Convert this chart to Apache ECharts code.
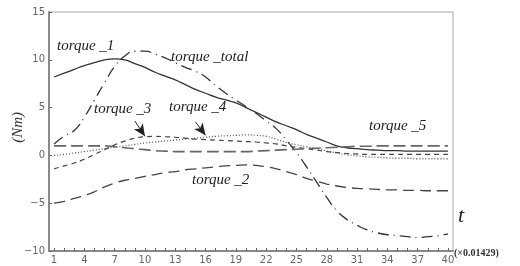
<!DOCTYPE html>
<html>
<head>
<meta charset="utf-8">
<script src="https://cdn.jsdelivr.net/npm/echarts@6/dist/echarts.min.js"></script>
<style>
  html, body { margin: 0; padding: 0; background: #fff; }
  #main { width: 520px; height: 266px; }
</style>
</head>
<body>
<div id="main"></div>
<script>
// time steps (x 0.01429)
var steps = [];
for (var i = 1; i <= 40; i++) steps.push(String(i));

var torque1 = [8.2, 8.6, 9.0, 9.4, 9.7, 10.0, 10.1, 10.0, 9.6, 9.2,
  8.7, 8.3, 7.9, 7.4, 6.9, 6.5, 6.1, 5.8, 5.5, 5.0,
  4.5, 4.0, 3.5, 3.1, 2.7, 2.2, 1.8, 1.4, 1.0, 0.8,
  0.7, 0.6, 0.55, 0.5, 0.5, 0.45, 0.45, 0.45, 0.45, 0.45];
var torqueTotal = [1.2, 2.0, 2.6, 4.0, 5.8, 7.6, 9.3, 10.4, 10.9, 10.9,
  10.6, 10.2, 9.7, 9.2, 8.8, 8.2, 7.3, 6.5, 5.8, 5.1,
  4.4, 3.6, 2.8, 1.6, 0.3, -1.2, -2.8, -4.4, -5.8, -6.7,
  -7.3, -7.8, -8.1, -8.3, -8.4, -8.5, -8.6, -8.5, -8.4, -8.2];
var torque2 = [-5.0, -4.8, -4.5, -4.2, -3.8, -3.3, -2.9, -2.6, -2.4, -2.2,
  -2.0, -1.8, -1.7, -1.5, -1.4, -1.3, -1.2, -1.1, -1.05, -1.0,
  -1.05, -1.2, -1.4, -1.7, -2.0, -2.4, -2.7, -3.0, -3.2, -3.35,
  -3.45, -3.5, -3.55, -3.6, -3.6, -3.65, -3.65, -3.7, -3.7, -3.7];
var torque3 = [-1.4, -1.1, -0.8, -0.4, 0.1, 0.6, 1.1, 1.5, 1.8, 1.95,
  2.0, 1.95, 1.9, 1.8, 1.7, 1.65, 1.6, 1.55, 1.5, 1.45,
  1.4, 1.3, 1.2, 1.0, 0.85, 0.7, 0.55, 0.4, 0.3, 0.2,
  0.15, 0.1, 0.1, 0.1, 0.1, 0.1, 0.1, 0.1, 0.1, 0.1];
var torque4 = [0.0, 0.1, 0.25, 0.4, 0.55, 0.7, 0.85, 1.0, 1.15, 1.3,
  1.4, 1.5, 1.6, 1.7, 1.8, 1.9, 2.0, 2.05, 2.1, 2.15,
  2.1, 2.0, 1.7, 1.35, 1.1, 0.9, 0.7, 0.45, 0.25, 0.05,
  -0.05, -0.15, -0.2, -0.25, -0.3, -0.3, -0.35, -0.35, -0.35, -0.35];
var torque5 = [1.0, 1.0, 1.0, 1.0, 1.0, 1.0, 0.9, 0.8, 0.7, 0.6,
  0.5, 0.45, 0.4, 0.4, 0.4, 0.4, 0.4, 0.4, 0.4, 0.4,
  0.45, 0.5, 0.55, 0.6, 0.65, 0.7, 0.75, 0.8, 0.85, 0.9,
  0.95, 0.95, 1.0, 1.0, 1.0, 1.0, 1.0, 1.0, 1.0, 1.0];

var yTicks = [-10, -5, 0, 5, 10, 15];

var serif = 'Liberation Serif';
var axisGray = '#8a8a8a';

function curve(name, data, type, width, color) {
    return {
        name: name,
        type: 'line',
        data: data,
        smooth: true,
        showSymbol: false,
        silent: true,
        lineStyle: { color: color || '#333', width: width || 1.2, type: type }
    };
}

function label(text, x, y) {
    return {
        type: 'text', left: x, top: y,
        style: { text: text, font: 'italic 15px "' + serif + '"', fill: '#222' }
    };
}

var myChart = echarts.init(document.getElementById('main'));

var s3 = curve('torque_3', torque3, [5, 4], 1.2, '#444');
// arrows pointing at torque_3 and torque_4
s3.markLine = {
    silent: true,
    symbol: ['none', 'arrow'],
    symbolSize: [8, 12],
    label: { show: false },
    lineStyle: { color: '#222', width: 1, type: 'solid' },
    data: [
        [{ coord: ['9', 3.6] }, { coord: ['10', 2.0] }],
        [{ coord: ['15', 3.5] }, { coord: ['16', 2.1] }]
    ]
};

myChart.setOption({
    animation: false,
    grid: { left: 49, right: 67, top: 12, bottom: 15, show: true, borderColor: '#aaa', borderWidth: 1 },
    xAxis: {
        type: 'category',
        data: steps,
        boundaryGap: true,
        axisLine: { onZero: false, lineStyle: { color: axisGray, width: 2 } },
        axisTick: { show: true, inside: true, alignWithLabel: true, interval: 0, length: 3, lineStyle: { color: '#666' } },
        axisLabel: { interval: 2, color: '#666', fontSize: 10, margin: 4, fontFamily: 'DejaVu Sans' },
        splitLine: { show: false }
    },
    yAxis: {
        type: 'value',
        min: yTicks[0], max: yTicks[yTicks.length - 1], interval: 5,
        axisLine: { show: true, lineStyle: { color: axisGray, width: 2 } },
        axisTick: { show: true, inside: true, length: 3, lineStyle: { color: '#666' } },
        axisLabel: { color: '#666', fontSize: 10, margin: 4, fontFamily: 'DejaVu Sans',
            formatter: function (v) { return v < 0 ? '\u2212' + (-v) : String(v); } },
        splitLine: { show: false }
    },
    series: [
        curve('torque_1', torque1, 'solid', 1.3, '#333'),
        curve('torque_total', torqueTotal, [11, 5, 1, 5], 1.3, '#333'),
        curve('torque_2', torque2, [11, 6], 1.3, '#444'),
        s3,
        curve('torque_4', torque4, [1, 2], 1.3, '#555'),
        curve('torque_5', torque5, [12, 5], 1.6, '#666')
    ],
    graphic: [
        label('torque _1', 57, 39),
        label('torque _total', 171, 50),
        label('torque _3', 94, 102),
        label('torque _4', 169, 100),
        label('torque _5', 369, 119),
        label('torque _2', 192, 173),
        {
            type: 'text', left: 11, top: 112, rotation: Math.PI / 2,
            style: { text: '(Nm)', font: 'italic 15px "' + serif + '"', fill: '#333' }
        },
        {
            type: 'text', left: 458, top: 205,
            style: { text: 't', font: 'italic 22px "' + serif + '"', fill: '#222' }
        },
        {
            type: 'text', left: 454, top: 248,
            style: { text: '(\u00d70.01429)', font: 'bold 10px "' + serif + '"', fill: '#333' }
        }
    ]
});
</script>
</body>
</html>
